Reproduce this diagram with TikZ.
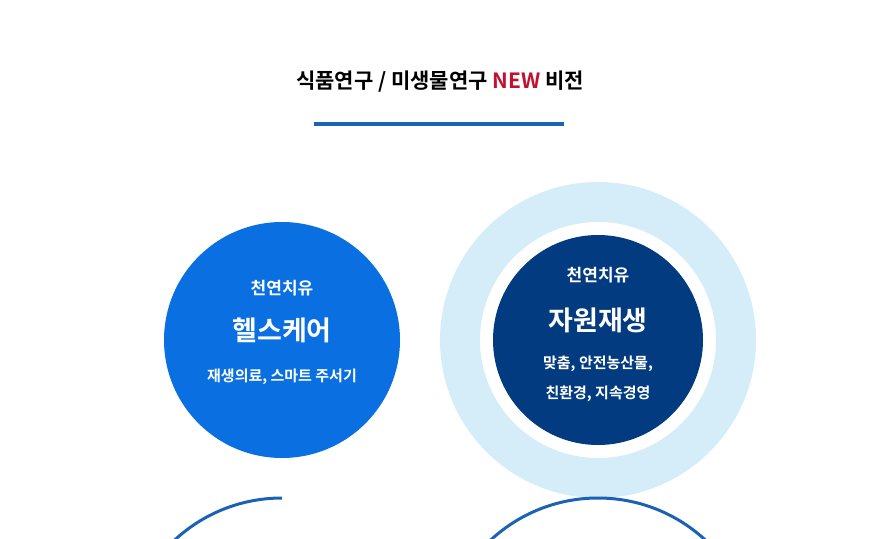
\documentclass[tikz,border=0pt]{standalone}
\usepackage{fontspec}
\setmainfont{Noto Sans CJK KR}[BoldFont={* Bold}]
\newfontfamily\kb{Noto Sans CJK KR Bold}
\definecolor{lineblue}{HTML}{1A62B4}
\definecolor{brightblue}{HTML}{0A70E2}
\definecolor{navy}{HTML}{033B80}
\definecolor{paleblue}{HTML}{D5EDF8}
\definecolor{newred}{HTML}{C2102E}
\tikzset{lbl/.style={text=white,font=\kb,align=center,inner sep=0pt}}
\begin{document}
\begin{tikzpicture}[x=1pt,y=-1pt]
\useasboundingbox (0,0) rectangle (880,538);
\node[font=\kb\fontsize{21}{24}\selectfont,inner sep=0pt] (title) at (440,82) {식품연구 / 미생물연구 \textcolor{newred}{NEW} 비전};
\coordinate (ul1) at (314,124); \coordinate (ul2) at (564,124);
\draw[lineblue,line width=4pt] (ul1) -- (ul2);
% right ring
\fill[paleblue,even odd rule] (598,340) circle[radius=158] (598,340) circle[radius=118];
\node[circle,fill=navy,minimum size=210pt,inner sep=0pt] (right) at (598,340) {};
\node[circle,fill=brightblue,minimum size=236pt,inner sep=0pt] (left) at (282,340) {};
% S line
\draw[lineblue,line width=3pt] (282,498) arc[start angle=270,end angle=0,radius=158] arc[start angle=180,end angle=450,radius=158];
% texts
\node[lbl,font=\kb\fontsize{17}{20}\selectfont] (l1) at (282,288) {천연치유};
\node[lbl,font=\kb\fontsize{27}{30}\selectfont] (l2) at (282,330) {헬스케어};
\node[lbl,font=\kb\fontsize{15}{18}\selectfont] (l3) at (282,377) {재생의료, 스마트 주서기};
\node[lbl,font=\kb\fontsize{17}{20}\selectfont] (r1) at (598,275) {천연치유};
\node[lbl,font=\kb\fontsize{27}{30}\selectfont] (r2) at (598,320) {자원재생};
\node[lbl,font=\kb\fontsize{15}{18}\selectfont] (r3) at (598,364) {맞춤, 안전농산물,};
\node[lbl,font=\kb\fontsize{15}{18}\selectfont] (r4) at (598,394) {친환경, 지속경영};
\end{tikzpicture}
\end{document}
